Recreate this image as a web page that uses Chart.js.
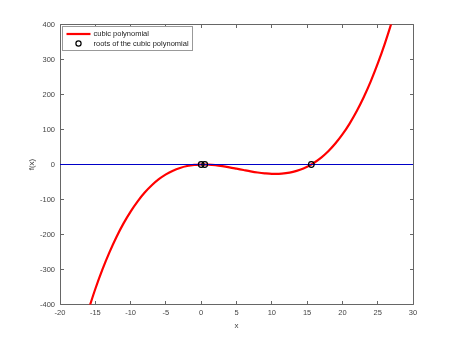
<!DOCTYPE html>
<html>
<head>
<meta charset="utf-8">
<script src="https://cdn.jsdelivr.net/npm/chart.js@4.4.1/dist/chart.umd.min.js"></script>
<style>
html,body{margin:0;padding:0;background:#fff;}
#wrap{width:458px;height:343px;position:relative;}
</style>
</head>
<body>
<div id="wrap"><canvas id="c" width="458" height="343"></canvas></div>
<script>
const xValues = [-16,-15,-14,-13,-12,-11,-10,-9,-8,-7,-6,-5,-4,-3,-2,-1,0,0.25,0.5,1,2,3,4,5,6,7,8,9,10,11,12,13,14,15,15.6,16,17,18,19,20,21,22,23,24,25,26,27,28];
const curveValues = [-417.1,-355.7,-300.4,-251.0,-207.0,-168.2,-134.4,-105.2,-80.2,-59.3,-42.1,-28.3,-17.6,-9.8,-4.4,-1.2,0,0.2,0,-0.37,-2.0,-4.7,-8.1,-11.9,-15.8,-19.6,-22.8,-25.2,-26.6,-26.6,-24.8,-21.1,-15.1,-6.5,0,5.0,19.6,37.8,59.8,85.8,116.2,151.4,191.5,236.9,287.9,344.8,407.8,477.4];
const rootX = [0, 0.5, 15.6];
const rootY = [0, 0, 0];
const zeroLineX = [-20, 30];
const zeroLineY = [0, 0];
const seriesLabels = ['cubic polynomial', 'roots of the cubic polynomial'];
const xTitle = 'x';
const yTitle = 'f(x)';

const FONT = '"Liberation Sans", Arial, sans-serif';

const curveData = xValues.map((x, i) => ({x: x, y: curveValues[i]}));
const rootData = rootX.map((x, i) => ({x: x, y: rootY[i]}));
const zeroData = zeroLineX.map((x, i) => ({x: x, y: zeroLineY[i]}));

const frame = {
  id: 'frame',
  beforeDatasetsDraw(chart) {
    const ctx = chart.ctx, a = chart.chartArea;
    const xs = chart.scales.x, ys = chart.scales.y;
    ctx.save();
    ctx.strokeStyle = '#666';
    ctx.lineWidth = 1;
    const L = Math.floor(a.left) + 0.5, T = Math.floor(a.top) + 0.5;
    const R = Math.floor(a.right) + 0.5, B = Math.floor(a.bottom) + 0.5;
    ctx.beginPath();
    ctx.rect(L, T, R - L, B - T);
    ctx.stroke();
    ctx.beginPath();
    xs.ticks.forEach(t => {
      const px = Math.floor(xs.getPixelForValue(t.value)) + 0.5;
      ctx.moveTo(px, B); ctx.lineTo(px, B - 3.5);
      ctx.moveTo(px, T); ctx.lineTo(px, T + 3.5);
    });
    ys.ticks.forEach(t => {
      const py = Math.floor(ys.getPixelForValue(t.value)) + 0.5;
      ctx.moveTo(L, py); ctx.lineTo(L + 3.5, py);
      ctx.moveTo(R, py); ctx.lineTo(R - 3.5, py);
    });
    ctx.stroke();
    ctx.restore();
  },
  afterDraw(chart) {
    const ctx = chart.ctx, a = chart.chartArea;
    const ds0 = chart.data.datasets[0], ds2 = chart.data.datasets[2];
    const bx = Math.floor(a.left) + 2.5, by = Math.floor(a.top) + 2.5, bw = 130, bh = 24;
    ctx.save();
    ctx.fillStyle = '#fff';
    ctx.fillRect(bx, by, bw, bh);
    ctx.strokeStyle = '#999';
    ctx.lineWidth = 1;
    ctx.strokeRect(bx, by, bw, bh);
    const y1 = by + 7.5, y2 = by + 17;
    ctx.strokeStyle = ds0.borderColor;
    ctx.lineWidth = ds0.borderWidth;
    ctx.beginPath(); ctx.moveTo(bx + 4, y1); ctx.lineTo(bx + 28, y1); ctx.stroke();
    ctx.strokeStyle = ds2.pointBorderColor;
    ctx.lineWidth = 1.2;
    ctx.beginPath(); ctx.arc(bx + 16, y2, 2.6, 0, Math.PI * 2); ctx.stroke();
    ctx.fillStyle = '#222';
    ctx.font = '7.5px ' + FONT;
    ctx.textBaseline = 'middle';
    ctx.textAlign = 'left';
    ctx.fillText(ds0.label, bx + 31, y1);
    ctx.fillText(ds2.label, bx + 31, y2);
    ctx.restore();
  }
};

new Chart(document.getElementById('c'), {
  type: 'scatter',
  data: {
    datasets: [
      {label: seriesLabels[0], data: curveData, showLine: true, borderColor: '#ff0000', backgroundColor: '#ff0000', borderWidth: 2.2, pointRadius: 0, tension: 0.4, cubicInterpolationMode: 'monotone', clip: 0, order: 3},
      {label: '', data: zeroData, showLine: true, borderColor: '#0000c8', borderWidth: 1, pointRadius: 0, clip: 0, order: 2},
      {label: seriesLabels[1], data: rootData, showLine: false, pointRadius: 2.8, pointBorderColor: '#000', pointBackgroundColor: 'rgba(0,0,0,0)', pointBorderWidth: 1.2, borderColor: '#000', order: 1}
    ]
  },
  options: {
    responsive: false,
    animation: false,
    events: [],
    layout: {padding: {top: 24.5, right: 45, left: 0, bottom: 0}},
    plugins: {legend: {display: false}, tooltip: {enabled: false}},
    scales: {
      x: {
        type: 'linear', min: -20, max: 30,
        afterFit(s) { s.height = 38.5; },
        ticks: {stepSize: 5, color: '#444', font: {family: FONT, size: 7.5}, padding: 4, maxRotation: 0, autoSkip: false},
        grid: {drawOnChartArea: false, drawTicks: false},
        border: {display: false},
        title: {display: true, text: xTitle, color: '#444', font: {family: FONT, size: 8}, padding: {top: 0, bottom: 12}}
      },
      y: {
        type: 'linear', min: -400, max: 400,
        afterFit(s) { s.width = 60; },
        ticks: {stepSize: 100, color: '#444', font: {family: FONT, size: 7.5}, padding: 5, autoSkip: false},
        grid: {drawOnChartArea: false, drawTicks: false},
        border: {display: false},
        title: {display: true, text: yTitle, color: '#444', font: {family: FONT, size: 8}, padding: {top: 27, bottom: 0}}
      }
    }
  },
  plugins: [frame]
});
</script>
</body>
</html>
